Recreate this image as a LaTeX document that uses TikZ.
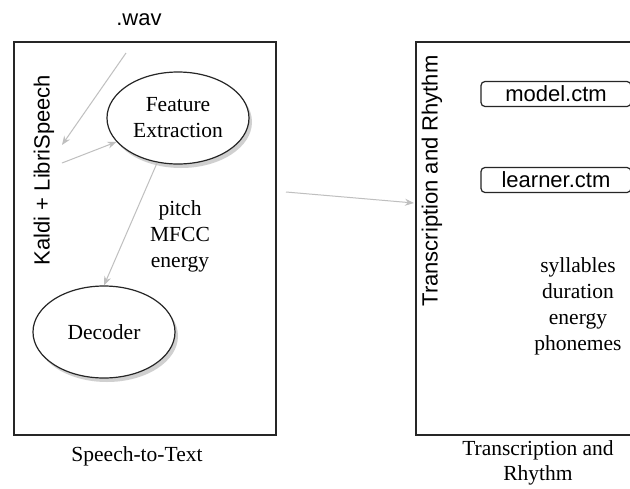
\documentclass[tikz,border=0pt]{standalone}
\usepackage{fontspec}
\setmainfont{Liberation Serif}
\setsansfont{Liberation Sans}
\usetikzlibrary{shapes.geometric,shadows,arrows.meta}

\tikzset{
    stage/.style={draw=black!85, line width=1.4pt, minimum height=393, inner sep=0pt},
    blob/.style={ellipse, draw=black!85, line width=1.2pt, fill=white, inner sep=0pt,
        minimum width=142, minimum height=92, align=center,
        drop shadow={shadow xshift=3pt, shadow yshift=-4pt, opacity=0.3, fill=black!60}},
    sans/.style={font=\sffamily\fontsize{22}{26}\selectfont},
    file/.style={sans, draw=black!85, line width=1.2pt, rounded corners=4pt, minimum width=150,
        minimum height=25, inner sep=0pt},
    flow/.style={-{Stealth[length=9pt,width=7pt]}, draw=black!25, line width=1pt},
    label/.style={align=center}
}

\begin{document}
\begin{tikzpicture}[x=1pt, y=-1pt, font=\fontsize{21.5}{26}\selectfont]
    \useasboundingbox[fill=white] (0,0) rectangle (630,488);

    \node[stage, minimum width=262] (stt) at (145,238.5) {};
    \node[stage, minimum width=224] (tr) at (528,238.5) {};

    \node[sans] (wav) at (139,20) {.wav};
    \node[sans, rotate=90] (kaldi) at (44,170) {Kaldi + LibriSpeech};
    \node[blob] (fe) at (178,118) {Feature\\Extraction};
    \node[blob] (dec) at (104,332) {Decoder};
    \node[label] (feats) at (180,236) {pitch\\MFCC\\energy};
    \node (sttcap) at (137,456) {Speech-to-Text};

    \node[sans, rotate=90] (trtitle) at (432,181) {Transcription and Rhythm};
    \node[file] (model) at (556,94) {model.ctm};
    \node[file] (learner) at (556,180) {learner.ctm};
    \node[label] (props) at (578,306) {syllables\\duration\\energy\\phonemes};
    \node[label, font=\fontsize{21.5}{25}\selectfont] (trcap) at (538,463) {Transcription and\\Rhythm};

    \coordinate (wavout) at (126,53);
    \coordinate (kaldiin) at (62,145);
    \coordinate (kaldiout) at (62,163);
    \coordinate (sttout) at (286,192);
    \coordinate (trin) at (414,203);

    \draw[flow] (wavout) -- (kaldiin);
    \draw[flow] (kaldiout) -- (fe);
    \draw[flow] (fe.245) -- (dec.north);
    \draw[flow] (sttout) -- (trin);
    % \draw[flow] (stt.east) -- (tr.west);
\end{tikzpicture}
\end{document}
